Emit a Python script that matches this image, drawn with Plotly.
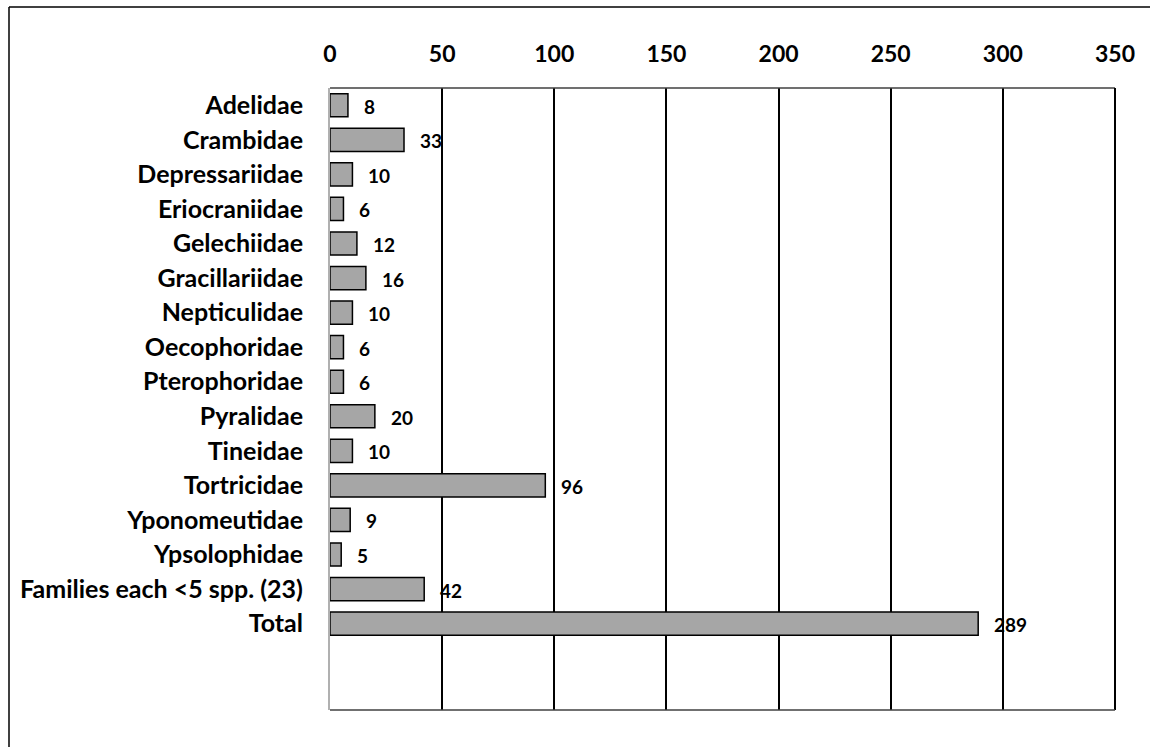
import plotly.graph_objects as go

# Species counts per moth family
families = [
    "Adelidae", "Crambidae", "Depressariidae", "Eriocraniidae", "Gelechiidae",
    "Gracillariidae", "Nepticulidae", "Oecophoridae", "Pterophoridae", "Pyralidae",
    "Tineidae", "Tortricidae", "Yponomeutidae", "Ypsolophidae",
    "Families each <5 spp. (23)", "Total",
]
species = [8, 33, 10, 6, 12, 16, 10, 6, 6, 20, 10, 96, 9, 5, 42, 289]
x_ticks = [0, 50, 100, 150, 200, 250, 300, 350]

FONT = "Lato"
positions = list(range(len(families)))

fig = go.Figure()
fig.add_trace(go.Bar(
    x=species,
    y=positions,
    orientation="h",
    width=0.67,
    marker=dict(color="#a6a6a6", line=dict(color="black", width=1.5)),
    hoverinfo="x+y",
))

# value labels just past the end of each bar
for pos, val in zip(positions, species):
    fig.add_annotation(
        x=val, y=pos, text=str(val), showarrow=False,
        xanchor="left", xshift=14, yshift=-1,
        font=dict(family=FONT, size=19, color="black", weight="bold"),
    )

L, R, T, B = 330, 35, 88, 37
W, H = 1150, 747
pw, ph = W - L - R, H - T - B

def px_x(px):
    return (px - L) / pw

def px_y(py):
    return 1 - (py - T) / ph

# outer chart frame (left and top edges)
fig.add_shape(type="line", xref="paper", yref="paper",
              x0=px_x(9), y0=px_y(H + 5), x1=px_x(9), y1=px_y(7),
              line=dict(color="black", width=1.5))
fig.add_shape(type="line", xref="paper", yref="paper",
              x0=px_x(9), y0=px_y(7), x1=px_x(W + 5), y1=px_y(7),
              line=dict(color="black", width=1.5))
# plot area border: top, right, bottom
fig.add_shape(type="line", xref="paper", yref="paper",
              x0=0, y0=1, x1=1, y1=1, line=dict(color="#404040", width=1.5))
fig.add_shape(type="line", xref="paper", yref="paper",
              x0=1, y0=0, x1=1, y1=1, line=dict(color="black", width=2))
fig.add_shape(type="line", xref="paper", yref="paper",
              x0=0, y0=0, x1=1, y1=0, line=dict(color="#404040", width=1.5))

fig.update_layout(
    width=W, height=H,
    margin=dict(l=L, r=R, t=T, b=B),
    paper_bgcolor="white", plot_bgcolor="white",
    showlegend=False,
    font=dict(family=FONT, color="black"),
)
fig.update_xaxes(
    side="top", range=[0, 350], tickvals=x_ticks,
    showgrid=True, gridcolor="black", gridwidth=1.5,
    zeroline=False, showline=False, ticks="",
    ticklabelstandoff=20,
    tickfont=dict(family=FONT, size=23, color="black", weight="bold"),
)
fig.update_yaxes(
    range=[17.5, -0.5], tickvals=positions, ticktext=families,
    showgrid=False, zeroline=False,
    showline=True, linecolor="#b0b0b0", linewidth=2,
    ticks="", ticklabelstandoff=20,
    tickfont=dict(family=FONT, size=25, color="black", weight="bold"),
)

fig.write_html("out.html")
